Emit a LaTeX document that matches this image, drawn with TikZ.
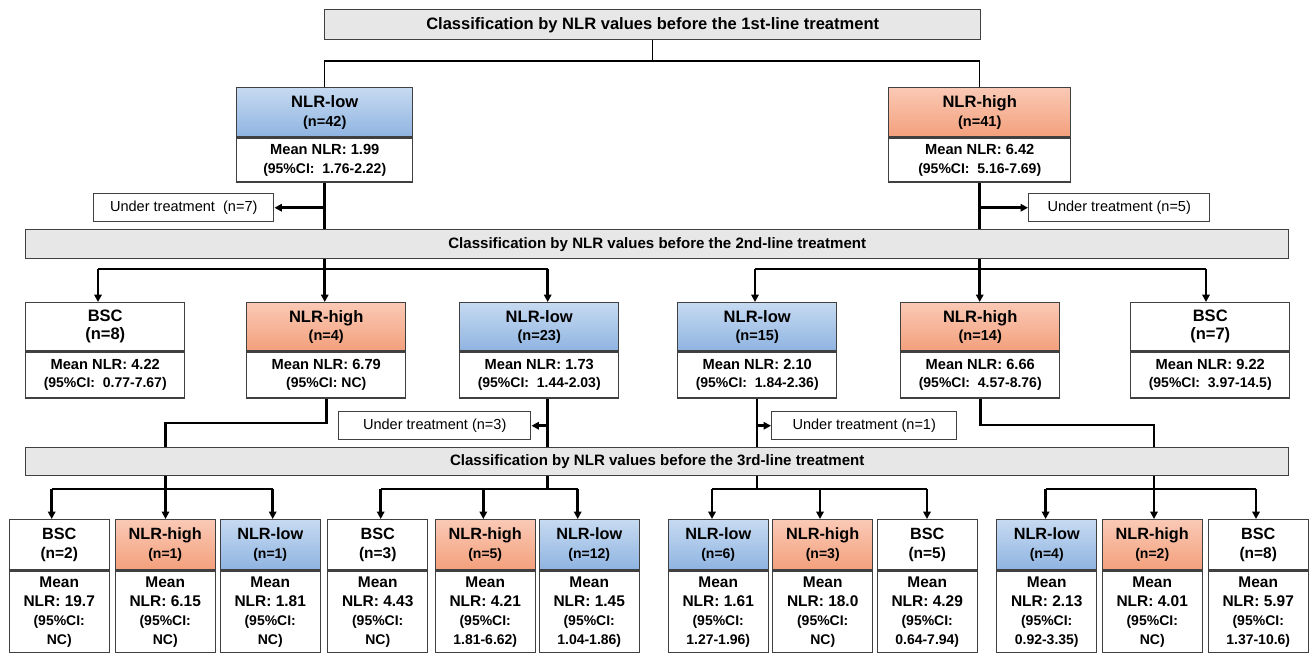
\documentclass[tikz,border=0pt]{standalone}
\usepackage{fontspec}
\setmainfont{Liberation Sans}
\usetikzlibrary{arrows.meta}
\definecolor{bord}{HTML}{404040}
\definecolor{barfill}{HTML}{E7E7E7}
\definecolor{blueT}{HTML}{C6DAF1}
\definecolor{blueB}{HTML}{8FB4E1}
\definecolor{orT}{HTML}{FAC9B5}
\definecolor{orB}{HTML}{F3A07C}
\newcommand\ft[2]{\fontsize{#1}{#2}\selectfont}
\newcommand\lvlfont{\ft{10.9}{13.5}}
\newcommand\gbox[9]{%
  \node[box,#7,anchor=north west,minimum width=#4*0.75pt,minimum height=#5*0.75pt] (#1h) at (#2,#3) {#8};
  \node[box,fill=white,anchor=north,minimum width=#4*0.75pt,minimum height=#6*0.75pt] (#1b) at (#1h.south) {#9};}
\newcommand\hdrtxt[2]{{\ft{12.4}{13.5}#1}\\{\ft{10.9}{13.5}#2}}
\newcommand\bschdr[2]{{\ft{12.4}{13.5}#1}\\{\ft{12.4}{13.5}#2}}
\newcommand\bodytxt[2]{{\ft{11}{13.5}Mean NLR: #1}\\{\ft{10.5}{13.5}(95\%CI:#2)}}
\newcommand\lowhdr[2]{{\ft{12.2}{14.25}#1}\\{\ft{10.5}{14.25}#2}}
\newcommand\lowbsc[2]{{\ft{12.2}{14.25}#1}\\{\ft{11.6}{14.25}#2}}
\newcommand\lowbody[2]{{\ft{11.6}{14.25}Mean}\\{\ft{11.6}{14.25}NLR: #1}\\{\ft{10.5}{14.25}(95\%CI:}\\{\ft{10.5}{14.25}#2)}}
\begin{document}
\begin{tikzpicture}[x=0.75pt,y=-0.75pt,
  box/.style={draw=bord,line width=1.1pt,inner sep=0pt,align=center,font=\bfseries\lvlfont},
  bar/.style={draw=bord,line width=1.1pt,inner sep=0pt,fill=barfill,anchor=north west,font=\bfseries\ft{11.3}{13}},
  blueh/.style={top color=blueT,bottom color=blueB},
  orangeh/.style={top color=orT,bottom color=orB},
  whiteh/.style={fill=white},
  ut/.style={draw=bord,line width=1.1pt,fill=white,inner sep=0pt,anchor=north west,font=\ft{10.9}{13}},
  c1/.style={line width=1.1pt,black},
  c2/.style={line width=1.9pt,black},
  arr/.style={c2,-{Triangle[length=5.5pt,width=5.5pt]}}
]
\useasboundingbox (0,0) rectangle (1310,653);

% bars
\node[bar,minimum width=656*0.75pt,minimum height=30*0.75pt,font=\bfseries\ft{12.4}{14}] (T) at (324,9) {Classification by NLR values before the 1st-line treatment};
\node[bar,minimum width=1263*0.75pt,minimum height=29*0.75pt] (B2) at (25,229) {Classification by NLR values before the 2nd-line treatment};
\node[bar,minimum width=1263*0.75pt,minimum height=28*0.75pt] (B3) at (25,447) {Classification by NLR values before the 3rd-line treatment};

% level 1
\renewcommand\lvlfont{\ft{10.9}{14.25}}
\gbox{L1low}{236}{87}{176}{49}{44}{blueh}{\hdrtxt{NLR-low}{(n=42)}}{\bodytxt{1.99}{\ \ 1.76-2.22}}
\gbox{L1high}{888}{87}{182}{49}{44}{orangeh}{\hdrtxt{NLR-high}{(n=41)}}{\bodytxt{6.42}{\ \ 5.16-7.69}}

% under treatment
\node[ut,minimum width=180*0.75pt,minimum height=28*0.75pt] (UT7) at (93,193) {Under treatment~ (n=7)};
\node[ut,minimum width=181*0.75pt,minimum height=28*0.75pt] (UT5) at (1028,193) {Under treatment (n=5)};
\node[ut,minimum width=192*0.75pt,minimum height=28*0.75pt] (UT3) at (338,411) {Under treatment (n=3)};
\node[ut,minimum width=185*0.75pt,minimum height=28*0.75pt] (UT1) at (771,411) {Under treatment (n=1)};

% level 2
\renewcommand\lvlfont{\ft{10.9}{13.5}}
\gbox{L2a}{25}{302}{159}{48}{46}{whiteh}{\bschdr{BSC}{(n=8)}}{\bodytxt{4.22}{\ \ 0.77-7.67}}
\gbox{L2b}{246}{302}{159}{48}{46}{orangeh}{\hdrtxt{NLR-high}{(n=4)}}{\bodytxt{6.79}{ NC}}
\gbox{L2c}{459}{302}{159}{48}{46}{blueh}{\hdrtxt{NLR-low}{(n=23)}}{\bodytxt{1.73}{\ \ 1.44-2.03}}
\gbox{L2d}{677}{302}{159}{48}{46}{blueh}{\hdrtxt{NLR-low}{(n=15)}}{\bodytxt{2.10}{\ \ 1.84-2.36}}
\gbox{L2e}{900}{302}{159}{48}{46}{orangeh}{\hdrtxt{NLR-high}{(n=14)}}{\bodytxt{6.66}{\ \ 4.57-8.76}}
\gbox{L2f}{1130}{302}{159}{48}{46}{whiteh}{\bschdr{BSC}{(n=7)}}{\bodytxt{9.22}{\ \ 3.97-14.5}}

% level 3
\renewcommand\lvlfont{\ft{10.9}{14.25}}
\gbox{L3a}{8.5}{519}{100}{50}{81.5}{whiteh}{\lowbsc{BSC}{(n=2)}}{\lowbody{19.7}{NC}}
\gbox{L3b}{114.5}{519}{100}{50}{81.5}{orangeh}{\lowhdr{NLR-high}{(n=1)}}{\lowbody{6.15}{NC}}
\gbox{L3c}{219.5}{519}{100}{50}{81.5}{blueh}{\lowhdr{NLR-low}{(n=1)}}{\lowbody{1.81}{NC}}
\gbox{L3d}{327}{519}{100}{50}{81.5}{whiteh}{\lowbsc{BSC}{(n=3)}}{\lowbody{4.43}{NC}}
\gbox{L3e}{434.5}{519}{100}{50}{81.5}{orangeh}{\lowhdr{NLR-high}{(n=5)}}{\lowbody{4.21}{1.81-6.62}}
\gbox{L3f}{538.5}{519}{100}{50}{81.5}{blueh}{\lowhdr{NLR-low}{(n=12)}}{\lowbody{1.45}{1.04-1.86}}
\gbox{L3g}{667.5}{519}{100}{50}{81.5}{blueh}{\lowhdr{NLR-low}{(n=6)}}{\lowbody{1.61}{1.27-1.96}}
\gbox{L3h}{772}{519}{100}{50}{81.5}{orangeh}{\lowhdr{NLR-high}{(n=3)}}{\lowbody{18.0}{NC}}
\gbox{L3i}{876.5}{519}{100}{50}{81.5}{whiteh}{\lowbsc{BSC}{(n=5)}}{\lowbody{4.29}{0.64-7.94}}
\gbox{L3j}{996}{519}{100}{50}{81.5}{blueh}{\lowhdr{NLR-low}{(n=4)}}{\lowbody{2.13}{0.92-3.35}}
\gbox{L3k}{1101.5}{519}{100}{50}{81.5}{orangeh}{\lowhdr{NLR-high}{(n=2)}}{\lowbody{4.01}{NC}}
\gbox{L3l}{1207.5}{519}{100}{50}{81.5}{whiteh}{\lowbsc{BSC}{(n=8)}}{\lowbody{5.97}{1.37-10.6}}

% helper rows
\coordinate (r1) at (0,61);
\coordinate (r2) at (0,269);
\coordinate (r3) at (0,489);
\coordinate (k4) at (0,423);
\coordinate (k14) at (0,425);

% level 0 -> 1
\draw[c1] (T.south) -- (T.south |- r1);
\draw[c1] (L1lowh.north) -- (L1lowh.north |- r1) -- (L1highh.north |- r1) -- (L1highh.north);

% level 1 -> bar 2
\draw[c2] (L1lowb.south) -- (L1lowb.south |- B2.north);
\draw[arr] (L1lowb.south |- UT7.east) -- (UT7.east);
\draw[c2] (L1highb.south) -- (L1highb.south |- B2.north);
\draw[arr] (L1highb.south |- UT5.west) -- (UT5.west);

% bar 2 -> level 2
\coordinate (a1) at (98,269);
\coordinate (a3) at (547.7,269);
\coordinate (a4) at (755,269);
\coordinate (a6) at (1206,269);
\draw[c2] (L1lowb.south |- B2.south) -- (L1lowb.south |- r2);
\draw[c2] (a1) -- (a3);
\draw[arr] (a1) -- (a1 |- L2ah.north);
\draw[arr] (L1lowb.south |- r2) -- (L1lowb.south |- L2bh.north);
\draw[arr] (a3) -- (a3 |- L2ch.north);
\draw[c2] (L1highb.south |- B2.south) -- (L1highb.south |- r2);
\draw[c2] (a4) -- (a6);
\draw[arr] (a4) -- (a4 |- L2dh.north);
\draw[arr] (L1highb.south |- r2) -- (L1highb.south |- L2eh.north);
\draw[arr] (a6) -- (a6 |- L2fh.north);

% level 2 -> bar 3
\coordinate (b1) at (165.5,489);
\coordinate (b2) at (547.7,489);
\coordinate (b3) at (757,489);
\coordinate (b4) at (1154,489);
\draw[c2] (L2bb.south) -- (L2bb.south |- k4) -- (b1 |- k4) -- (b1 |- B3.north);
\draw[c2] (a3 |- L2cb.south) -- (a3 |- B3.north);
\draw[arr] (a3 |- UT3.east) -- (UT3.east);
\draw[c2] (b3 |- L2db.south) -- (b3 |- B3.north);
\draw[arr] (b3 |- UT1.west) -- (UT1.west);
\draw[c2] (L2eb.south) -- (L2eb.south |- k14) -- (b4 |- k14) -- (b4 |- B3.north);

% bar 3 -> level 3
\coordinate (g1l) at (51.7,489);
\coordinate (g1r) at (272.7,489);
\coordinate (g2l) at (380.7,489);
\coordinate (g2m) at (483.3,489);
\coordinate (g2r) at (577.7,489);
\coordinate (g3l) at (712,489);
\coordinate (g3m) at (820,489);
\coordinate (g3r) at (927,489);
\coordinate (g4l) at (1045.6,489);
\coordinate (g4r) at (1256,489);

\draw[c2] (b1 |- B3.south) -- (b1);
\draw[c2] (g1l) -- (g1r);
\draw[arr] (g1l) -- (g1l |- L3ah.north);
\draw[arr] (b1) -- (b1 |- L3bh.north);
\draw[arr] (g1r) -- (g1r |- L3ch.north);

\draw[c2] (b2 |- B3.south) -- (b2);
\draw[c2] (g2l) -- (g2r);
\draw[arr] (g2l) -- (g2l |- L3dh.north);
\draw[arr] (g2m) -- (g2m |- L3eh.north);
\draw[arr] (g2r) -- (g2r |- L3fh.north);

\draw[c2] (b3 |- B3.south) -- (b3);
\draw[c2] (g3l) -- (g3r);
\draw[arr] (g3l) -- (g3l |- L3gh.north);
\draw[arr] (g3m) -- (g3m |- L3hh.north);
\draw[arr] (g3r) -- (g3r |- L3ih.north);

\draw[c2] (b4 |- B3.south) -- (b4);
\draw[c2] (g4l) -- (g4r);
\draw[arr] (g4l) -- (g4l |- L3jh.north);
\draw[arr] (b4) -- (b4 |- L3kh.north);
\draw[arr] (g4r) -- (g4r |- L3lh.north);
\end{tikzpicture}
\end{document}
